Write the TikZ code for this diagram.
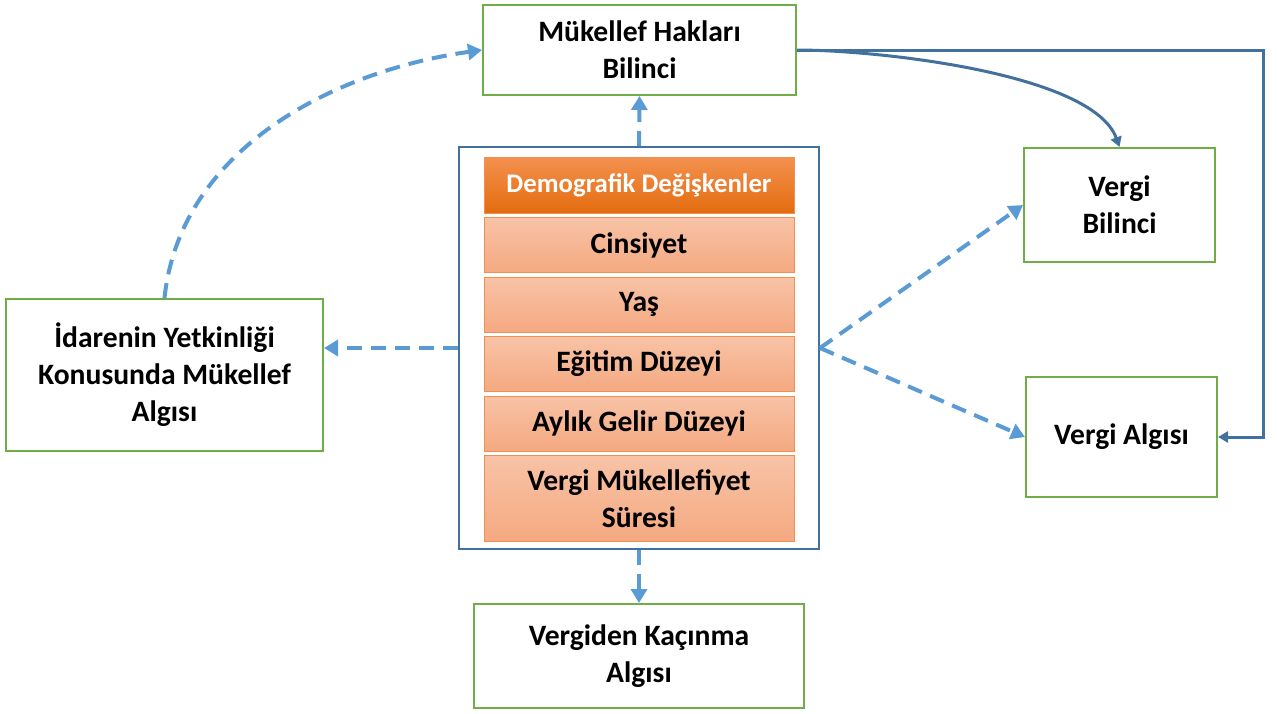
\documentclass[tikz,border=0pt]{standalone}
\usepackage{fontspec}
\setmainfont{Carlito}
\usepackage{tikz}
\usetikzlibrary{arrows.meta,positioning,calc}

\definecolor{boxgreen}{HTML}{70AD47}
\definecolor{frameblue}{HTML}{41719C}
\definecolor{dashblue}{HTML}{5B9BD5}
\definecolor{headtop}{HTML}{F3914F}
\definecolor{headbot}{HTML}{E46C0F}
\definecolor{rowtop}{HTML}{F8C3A6}
\definecolor{rowbot}{HTML}{F4A981}
\definecolor{rowline}{HTML}{F08F52}

\begin{document}
\begin{tikzpicture}[x=0.5pt,y=-0.5pt,node distance=1.75pt,
    every node/.style={font=\fontsize{14.8}{18.5}\selectfont\bfseries, align=center, inner sep=0pt},
    greenbox/.style={draw=boxgreen, line width=1pt, fill=white},
    rowbox/.style={draw=rowline, line width=0.5pt, top color=rowtop, bottom color=rowbot,
        minimum width=155pt, minimum height=27.5pt},
    dasharrow/.style={dashblue, line width=2pt, dash pattern=on 7.5pt off 4.5pt,
        -{Triangle[length=7pt,width=8pt]}},
    solidarrow/.style={frameblue, line width=1.5pt, -{Triangle[length=5pt,width=5.5pt]}}]
    \useasboundingbox (0,0) rectangle (1277,713);

    % outer boxes
    \node[greenbox, minimum width=156.5pt, minimum height=45pt] (mhb) at (639.5,50) {Mükellef Hakları\\Bilinci};
    \node[greenbox, minimum width=95.5pt, minimum height=57pt] (vbil) at (1119.5,205) {Vergi\\Bilinci};
    \node[greenbox, minimum width=95.5pt, minimum height=60pt] (valg) at (1121.5,437) {Vergi Algısı};
    \node[greenbox, minimum width=158.5pt, minimum height=76pt] (idare) at (164.5,375) {İdarenin Yetkinliği\\Konusunda Mükellef\\Algısı};
    \node[greenbox, minimum width=165pt, minimum height=52pt] (vkac) at (639,656) {Vergiden Kaçınma\\Algısı};

    % demographic block
    \node[draw=frameblue, line width=1pt, fill=white, minimum width=180pt, minimum height=201pt] (demo) at (639,348) {};
    \node[draw=rowline, line width=0.5pt, top color=headtop, bottom color=headbot,
        minimum width=155pt, minimum height=28pt, text=white,
        font=\fontsize{13.4}{16}\selectfont\bfseries] (head) at (639,185) {Demografik Değişkenler};
    \node[rowbox, below=of head] (sex) {Cinsiyet};
    \node[rowbox, below=of sex] (age) {Yaş};
    \node[rowbox, below=of age] (edu) {Eğitim Düzeyi};
    \node[rowbox, below=of edu] (income) {Aylık Gelir Düzeyi};
    \node[rowbox, minimum height=43pt, below=of income] (years) {Vergi Mükellefiyet\\Süresi};

    % connectors
    \draw[dasharrow] (demo.north) -- (mhb.south);
    \draw[dasharrow] (demo.south) -- (vkac.north);
    \draw[dasharrow] (demo.west) -- (demo.west -| idare.east);
    \draw[dasharrow] (demo.east) -- (vbil.west);
    \draw[dasharrow] (demo.east) -- (valg.west);
    \draw[dasharrow] (idare.north) to[out=84, in=188, looseness=0.95] (mhb.west);

    \coordinate (corner) at (1263,50);
    \draw[solidarrow] (mhb.east) to[out=0, in=110, looseness=0.6] (vbil.north);
    \draw[solidarrow] (mhb.east) -- (corner) |- (valg.east);
\end{tikzpicture}
\end{document}
